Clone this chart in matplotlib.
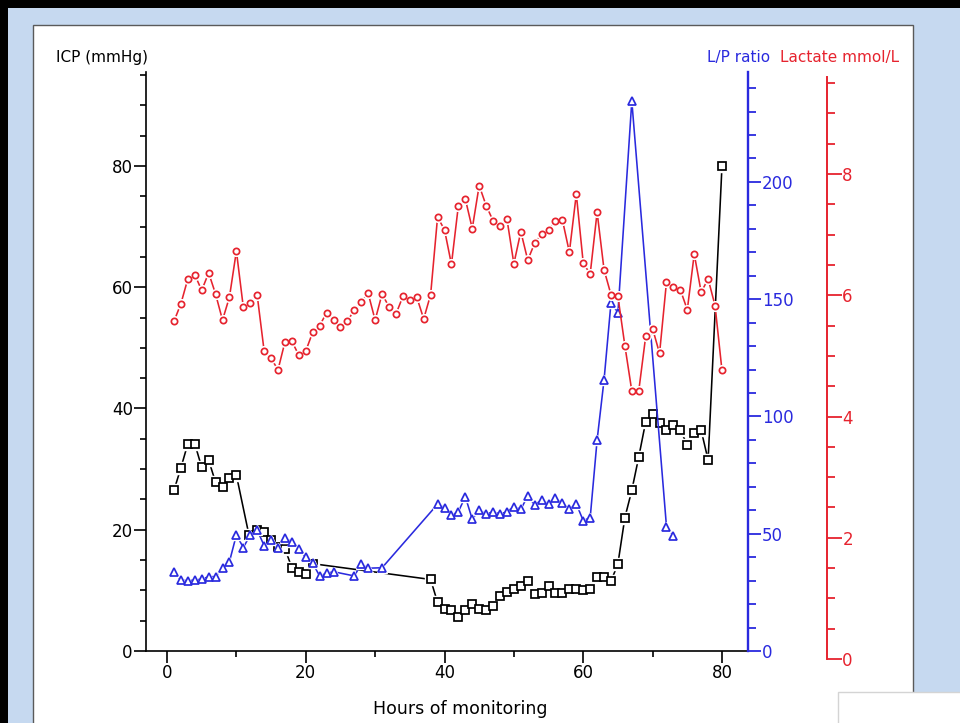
import matplotlib.pyplot as plt
from matplotlib.patches import Rectangle
from matplotlib.ticker import MultipleLocator

# ICP (mmHg), black squares
hours_icp = [1, 2, 3, 4, 5, 6, 7, 8, 9, 10, 11.8, 13, 14, 15, 16, 17, 18, 19, 20, 21,
             38, 39, 40, 41, 42, 43, 44, 45, 46, 47, 48, 49, 50, 51, 52, 53, 54, 55,
             56, 57, 58, 59, 60, 61, 62, 63, 64, 65, 66, 67, 68, 69, 70, 71, 72, 73,
             74, 75, 76, 77, 78, 80]
icp = [26.5, 30.2, 34.2, 34.2, 30.3, 31.5, 27.8, 27.1, 28.5, 29.0, 19.2, 19.9, 19.7,
       18.3, 17.1, 16.9, 13.7, 13.0, 12.7, 14.4,
       11.8, 8.0, 6.9, 6.8, 5.6, 6.8, 7.8, 7.0, 6.7, 7.4, 9.0, 9.7, 10.2, 10.7, 11.6,
       9.4, 9.5, 10.7, 9.6, 9.5, 10.2, 10.2, 10.0, 10.2, 12.2, 12.2, 11.5, 14.4, 22.0,
       26.5, 32.0, 37.8, 39.1, 37.6, 36.5, 37.2, 36.5, 33.9, 36.0, 36.4, 31.5, 80.0]

# L/P ratio, blue triangles
hours_lp = [1, 2, 3, 4, 5, 6, 7, 8, 9, 10, 11, 12, 13, 14, 15, 16, 17, 18, 19, 20, 21,
            22, 23, 24, 27, 28, 29, 31,
            39, 40, 41, 42, 43, 44, 45, 46, 47, 48, 49, 50, 51, 52, 53, 54, 55, 56,
            57, 58, 59, 60, 61, 62, 63, 64, 65, 67, 72, 73]
lp_ratio = [33.6, 30.3, 29.9, 30.3, 30.6, 31.7, 31.7, 35.3, 38.1, 49.5, 44.1, 49.5,
            51.6, 44.9, 47.3, 44.1, 48.3, 46.4, 43.5, 40.0, 37.4, 32.0, 33.1, 33.8,
            32.0, 37.0, 35.3, 35.5,
            62.6, 61.1, 57.8, 59.4, 65.8, 56.2, 60.1, 58.3, 59.4, 58.4, 59.4, 61.5,
            60.4, 66.1, 62.3, 64.4, 62.7, 65.1, 63.0, 60.4, 62.7, 55.6, 56.8, 90.0,
            115.6, 148.5, 144.3, 234.5, 53.0, 49.2]

# Lactate (mmol/L), red circles
hours_lac = list(range(1, 81))
lactate = [5.57, 5.86, 6.27, 6.34, 6.08, 6.37, 6.02, 5.59, 5.97, 6.73,
           5.80, 5.88, 6.00, 5.08, 4.96, 4.77, 5.23, 5.24, 5.01, 5.08,
           5.39, 5.50, 5.71, 5.60, 5.47, 5.57, 5.76, 5.89, 6.03, 5.59,
           6.02, 5.81, 5.69, 5.98, 5.92, 5.97, 5.61, 6.01, 7.29, 7.08,
           6.51, 7.48, 7.59, 7.10, 7.81, 7.48, 7.23, 7.15, 7.26, 6.52,
           7.05, 6.58, 6.86, 7.01, 7.08, 7.23, 7.24, 6.71, 7.67, 6.53,
           6.35, 7.37, 6.42, 6.01, 5.98, 5.17, 4.42, 4.42, 5.32, 5.45,
           5.04, 6.22, 6.13, 6.09, 5.76, 6.68, 6.05, 6.27, 5.83, 4.76]

W, H = 960, 723
BLUE = '#2a2ade'
RED = '#e6232e'
XLIM = (-3.03, 83.75)


def fx(px):
    return px / W


def fy(py):
    return 1 - py / H


def block(x0, y0, x1, y1, **kw):
    fig.add_artist(Rectangle((fx(x0), fy(y1)), (x1 - x0) / W, (y1 - y0) / H,
                             transform=fig.transFigure, zorder=-5, **kw))


def draw(axis, x, y, color, marker, ms):
    axis.plot(x, y, color=color, lw=1.15, zorder=2)
    # white halo so the line stops short of each marker
    axis.plot(x, y, ls='none', marker=marker, ms=ms + 2.5, mfc='white', mec='white', zorder=3)
    axis.plot(x, y, ls='none', marker=marker, ms=ms, mfc='white', mec=color, mew=1.25, zorder=4)


fig = plt.figure(figsize=(9.6, 7.23), dpi=100)
fig.patch.set_facecolor('#c6d9f0')

block(0, 0, 960, 8, facecolor='black', lw=0)
block(0, 0, 8, 723, facecolor='black', lw=0)
block(33, 25, 913, 735, facecolor='white', edgecolor='#5a5a5a', lw=1)
block(838, 692, 970, 735, facecolor='white', edgecolor='#d4d4d4', lw=1)

# ICP axis
ax = fig.add_axes([fx(146), fy(651), (748 - 146) / W, (651 - 71.7) / H])
ax.patch.set_alpha(0)
ax.set_xlim(*XLIM)
ax.set_ylim(0, 95.55)
for s in ['top', 'right']:
    ax.spines[s].set_visible(False)
for s in ['left', 'bottom']:
    ax.spines[s].set_linewidth(1.2)
ax.xaxis.set_major_locator(MultipleLocator(20))
ax.xaxis.set_minor_locator(MultipleLocator(10))
ax.yaxis.set_major_locator(MultipleLocator(20))
ax.yaxis.set_minor_locator(MultipleLocator(5))
ax.tick_params(which='major', length=8.5, width=1.2, labelsize=12, pad=1)
ax.tick_params(which='minor', length=4.3, width=1.2)

# L/P ratio axis
ax2 = ax.twinx()
ax2.set_ylim(0, 247)
for s in ['top', 'left', 'bottom']:
    ax2.spines[s].set_visible(False)
ax2.spines['right'].set_color(BLUE)
ax2.spines['right'].set_linewidth(1.7)
ax2.yaxis.set_major_locator(MultipleLocator(50))
ax2.yaxis.set_minor_locator(MultipleLocator(10))
ax2.tick_params(which='major', length=9.5, width=1.3, color=BLUE, labelcolor=BLUE,
                labelsize=12, pad=0.5)
ax2.tick_params(which='minor', length=5.5, width=1.3, color=BLUE)

# Lactate axis, offset to the right and slightly lower
ax3 = fig.add_axes([fx(146), fy(659), (748 - 146) / W, (659 - 77) / H])
ax3.patch.set_alpha(0)
ax3.set_xlim(*XLIM)
ax3.set_ylim(0, 9.6)
for s in ['top', 'left', 'bottom']:
    ax3.spines[s].set_visible(False)
ax3.spines['right'].set_position(('axes', (827 - 146) / (748 - 146)))
ax3.spines['right'].set_color(RED)
ax3.spines['right'].set_linewidth(1.4)
ax3.xaxis.set_visible(False)
ax3.yaxis.tick_right()
ax3.yaxis.set_major_locator(MultipleLocator(2))
ax3.yaxis.set_minor_locator(MultipleLocator(0.5))
ax3.tick_params(which='major', length=10.5, width=1.3, color=RED, labelcolor=RED,
                labelsize=12, pad=0.5)
ax3.tick_params(which='minor', length=5.5, width=1.3, color=RED)

draw(ax, hours_icp, icp, 'black', 's', 5.6)
draw(ax2, hours_lp, lp_ratio, BLUE, '^', 5.2)
draw(ax3, hours_lac, lactate, RED, 'o', 4.5)

fig.text(fx(56), fy(62), 'ICP (mmHg)', fontsize=11, va='baseline', ha='left')
fig.text(fx(770), fy(62), 'L/P ratio', fontsize=11, color=BLUE, va='baseline', ha='right')
fig.text(fx(780), fy(62), 'Lactate mmol/L', fontsize=11, color=RED, va='baseline', ha='left')
fig.text(fx(460), fy(714), 'Hours of monitoring', fontsize=12.5, ha='center', va='baseline')

fig.savefig('out.png', dpi=100, facecolor=fig.get_facecolor())
